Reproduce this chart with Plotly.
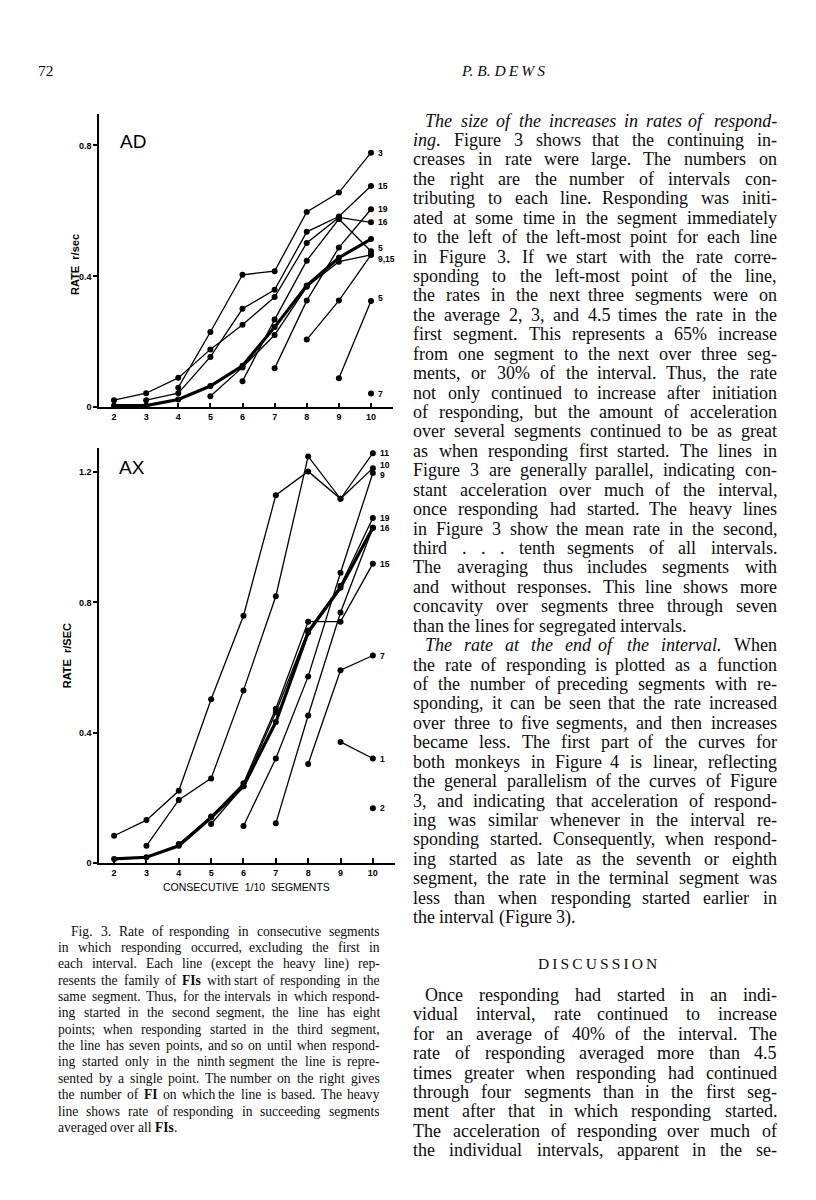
import plotly.graph_objects as go

# ---------------- DATA ----------------
segments = [2, 3, 4, 5, 6, 7, 8, 9, 10]

# Panel AD: each family of FIs, keyed by start segment
ad_start = [2, 3, 4, 5, 6, 7, 8, 9, 10]
ad_values = [
    [0.022, 0.043, 0.090, 0.177, 0.252, 0.337, 0.502, 0.580, 0.565],
    [0.022, 0.043, 0.154, 0.301, 0.359, 0.536, 0.583, 0.676],
    [0.060, 0.230, 0.405, 0.416, 0.597, 0.656, 0.778],
    [0.034, 0.122, 0.221, 0.368, 0.445, 0.466],
    [0.080, 0.268, 0.448, 0.575, 0.477],
    [0.119, 0.326, 0.488, 0.605],
    [0.207, 0.326, 0.466],
    [0.089, 0.325],
    [0.042],
]
ad_labels = ["16", "15", "3", "9,15", "5", "19", "", "5", "7"]
ad_mean = [0.005, 0.005, 0.024, 0.065, 0.127, 0.245, 0.372, 0.457, 0.514]

# Panel AX
ax_start = [2, 3, 4, 5, 6, 7, 8, 9, 10]
ax_values = [
    [0.084, 0.132, 0.222, 0.503, 0.759, 1.129, 1.202, 1.118, 1.212],
    [0.053, 0.194, 0.260, 0.530, 0.819, 1.248, 1.118, 1.258],
    [0.059, 0.143, 0.245, 0.474, 0.741, 0.741, 0.919],
    [0.120, 0.236, 0.463, 0.714, 0.851, 1.059],
    [0.114, 0.321, 0.573, 0.891, 1.197],
    [0.122, 0.453, 0.769, 1.029],
    [0.304, 0.592, 0.637],
    [0.372, 0.321],
    [0.168],
]
ax_labels = ["10", "11", "15", "19", "9", "16", "7", "1", "2"]
ax_mean = [0.013, 0.018, 0.053, 0.140, 0.236, 0.433, 0.708, 0.845, 1.029]

ad_yticks = [0, 0.4, 0.8]
ad_yticktext = ["0", "0.4", "0.8"]
ax_yticks = [0, 0.4, 0.8, 1.2]
ax_yticktext = ["0", "0.4", "0.8", "1.2"]
x_ticktext = ["2", "3", "4", "5", "6", "7", "8", "9", "10"]

caption_lines = [
    "Fig. 3. Rate of responding in consecutive segments",
    "in which responding occurred, excluding the first in",
    "each interval. Each line (except the heavy line) rep-",
    "resents the family of <b>FIs</b> with start of responding in the",
    "same segment. Thus, for the intervals in which respond-",
    "ing started in the second segment, the line has eight",
    "points; when responding started in the third segment,",
    "the line has seven points, and so on until when respond-",
    "ing started only in the ninth segment the line is repre-",
    "sented by a single point. The number on the right gives",
    "the number of <b>FI</b> on which the line is based. The heavy",
    "line shows rate of responding in succeeding segments",
    "averaged over all <b>FIs</b>.",
]

body_lines = [
    "<i>The size of the increases in rates of respond-</i>",
    "<i>ing</i>. Figure 3 shows that the continuing in-",
    "creases in rate were large. The numbers on",
    "the right are the number of intervals con-",
    "tributing to each line. Responding was initi-",
    "ated at some time in the segment immediately",
    "to the left of the left-most point for each line",
    "in Figure 3. If we start with the rate corre-",
    "sponding to the left-most point of the line,",
    "the rates in the next three segments were on",
    "the average 2, 3, and 4.5 times the rate in the",
    "first segment. This represents a 65% increase",
    "from one segment to the next over three seg-",
    "ments, or 30% of the interval. Thus, the rate",
    "not only continued to increase after initiation",
    "of responding, but the amount of acceleration",
    "over several segments continued to be as great",
    "as when responding first started. The lines in",
    "Figure 3 are generally parallel, indicating con-",
    "stant acceleration over much of the interval,",
    "once responding had started. The heavy lines",
    "in Figure 3 show the mean rate in the second,",
    "third . . . tenth segments of all intervals.",
    "The averaging thus includes segments with",
    "and without responses. This line shows more",
    "concavity over segments three through seven",
    "than the lines for segregated intervals.",
    "<i>The rate at the end of the interval.</i> When",
    "the rate of responding is plotted as a function",
    "of the number of preceding segments with re-",
    "sponding, it can be seen that the rate increased",
    "over three to five segments, and then increases",
    "became less. The first part of the curves for",
    "both monkeys in Figure 4 is linear, reflecting",
    "the general parallelism of the curves of Figure",
    "3, and indicating that acceleration of respond-",
    "ing was similar whenever in the interval re-",
    "sponding started. Consequently, when respond-",
    "ing started as late as the seventh or eighth",
    "segment, the rate in the terminal segment was",
    "less than when responding started earlier in",
    "the interval (Figure 3).",
]
body_indented = {0, 27}
body_ragged = {26, 41}

discussion_lines = [
    "Once responding had started in an indi-",
    "vidual interval, rate continued to increase",
    "for an average of 40% of the interval. The",
    "rate of responding averaged more than 4.5",
    "times greater when responding had continued",
    "through four segments than in the first seg-",
    "ment after that in which responding started.",
    "The acceleration of responding over much of",
    "the individual intervals, apparent in the se-",
]

# ---------------- FIGURE ----------------
W, H = 816, 1200
OFF = 8  # page body margin of the html page


def px(x):
    return (x - OFF) / W


def py(y):
    return 1 - (y - OFF) / H


fig = go.Figure()

X0_PX, XU = 114.0, 32.125   # pixel of segment 2 and pixels per segment
x_range = [2 - (X0_PX - 99) / XU, 10 + (393 - (X0_PX + 8 * XU)) / XU]


def add_panel(values, starts, mean, labels, xa, ya, label_shift):
    for st, vals, lab in zip(starts, values, labels):
        xs = list(range(st, st + len(vals)))
        fig.add_trace(go.Scatter(
            x=xs, y=vals, mode="lines+markers", xaxis=xa, yaxis=ya,
            line=dict(color="black", width=1.3),
            marker=dict(color="black", size=6),
            cliponaxis=False, showlegend=False, hoverinfo="skip"))
        if lab:
            fig.add_annotation(
                x=10, y=vals[-1], xref=xa, yref=ya, text=lab, showarrow=False,
                xanchor="left", yanchor="middle", xshift=5,
                yshift=label_shift.get(lab, 0),
                font=dict(family="Liberation Sans", size=8.5, color="black", weight="bold"))
    fig.add_trace(go.Scatter(
        x=segments, y=mean, mode="lines+markers", xaxis=xa, yaxis=ya,
        line=dict(color="black", width=3.2),
        marker=dict(color="black", size=6),
        cliponaxis=False, showlegend=False, hoverinfo="skip"))


add_panel(ad_values, ad_start, ad_mean, ad_labels, "x", "y", {"5": 3, "9,15": -4})
add_panel(ax_values, ax_start, ax_mean, ax_labels, "x2", "y2", {"10": 3, "9": -2})

axis_common = dict(showline=True, linecolor="black", linewidth=1.5, showgrid=False,
                   zeroline=False, tickcolor="black", tickwidth=1.5,
                   tickfont=dict(family="Liberation Sans", size=9, color="black", weight="bold"))

ad_top, ad_bot = 114, 409
ax_top, ax_bot = 450, 866.7
ad_ppu, ax_ppu = 328.75, 327.25

fig.update_layout(
    width=W, height=H, margin=dict(l=0, r=0, t=0, b=0),
    paper_bgcolor="white", plot_bgcolor="white",
    xaxis=dict(domain=[px(99), px(393)], range=x_range, anchor="y",
               tickvals=segments, ticktext=x_ticktext, ticks="inside", ticklen=5,
               **axis_common),
    yaxis=dict(domain=[py(ad_bot), py(ad_top)], range=[0, (ad_bot - ad_top) / ad_ppu],
               anchor="x", tickvals=ad_yticks, ticktext=ad_yticktext,
               ticks="outside", ticklen=4, **axis_common),
    xaxis2=dict(domain=[px(99), px(395)], range=x_range, anchor="y2",
                tickvals=segments, ticktext=x_ticktext, ticks="inside", ticklen=5,
                **axis_common),
    yaxis2=dict(domain=[py(ax_bot), py(ax_top)], range=[0, (ax_bot - ax_top) / ax_ppu],
                anchor="x2", tickvals=ax_yticks, ticktext=ax_yticktext,
                ticks="outside", ticklen=4, **axis_common),
)

sans = "Liberation Sans"
serif = "Liberation Serif"
INK = "#0c0c0c"


def txt(x, y, s, size, family=serif, anchor="left", angle=0, weight="normal", color=INK):
    fig.add_annotation(x=px(x), y=py(y), xref="paper", yref="paper", text=s,
                       showarrow=False, xanchor=anchor, yanchor="middle",
                       textangle=angle, borderpad=0,
                       font=dict(family=family, size=size, color=color, weight=weight))


# ---- Times (Liberation Serif) metrics for justified setting ----
_TR = {' ': 250, '!': 333, '%': 833, '(': 333, ')': 333, ',': 250, '-': 333, '.': 250,
       '/': 278, ':': 278, ';': 278, '?': 444,
       'A': 722, 'B': 667, 'C': 667, 'D': 722, 'E': 611, 'F': 556, 'G': 722, 'H': 722,
       'I': 333, 'J': 389, 'K': 722, 'L': 611, 'M': 889, 'N': 722, 'O': 722, 'P': 556,
       'Q': 722, 'R': 667, 'S': 556, 'T': 611, 'U': 722, 'V': 722, 'W': 944, 'X': 722,
       'Y': 722, 'Z': 611,
       'a': 444, 'b': 500, 'c': 444, 'd': 500, 'e': 444, 'f': 333, 'g': 500, 'h': 500,
       'i': 278, 'j': 278, 'k': 500, 'l': 278, 'm': 778, 'n': 500, 'o': 500, 'p': 500,
       'q': 500, 'r': 333, 's': 389, 't': 278, 'u': 500, 'v': 500, 'w': 722, 'x': 500,
       'y': 500, 'z': 444}
for d in "0123456789":
    _TR[d] = 500
_TI = dict(_TR)
_TI.update({'a': 500, 'f': 278, 'k': 444, 'm': 722, 'r': 389, 'v': 444, 'w': 667,
            'x': 444, 'y': 444, 'z': 389, 'T': 556, 'F': 611})
_TB = dict(_TR)
_TB.update({'F': 611, 'I': 389, 'e': 444, 's': 389})


def parse_words(line):
    state = {"i": False, "b": False}
    words = []
    for raw in line.split(" "):
        if not raw:
            continue
        runs, cur, k = [], "", 0
        while k < len(raw):
            hit = False
            for tag, key, val in (("<i>", "i", True), ("</i>", "i", False),
                                  ("<b>", "b", True), ("</b>", "b", False)):
                if raw.startswith(tag, k):
                    if cur:
                        runs.append((cur, state["i"], state["b"]))
                        cur = ""
                    state[key] = val
                    k += len(tag)
                    hit = True
                    break
            if not hit:
                cur += raw[k]
                k += 1
        if cur:
            runs.append((cur, state["i"], state["b"]))
        html, width = "", 0.0
        for t, it, bd in runs:
            table = _TI if it else (_TB if bd else _TR)
            width += sum(table.get(ch, 500) for ch in t) / 1000.0
            h = t
            if bd:
                h = "<b>" + h + "</b>"
            if it:
                h = "<i>" + h + "</i>"
            html += h
        words.append((html, width))
    return words


def set_line(line, y, left, right, size, justify=True):
    words = parse_words(line)
    widths = [w * size for _, w in words]
    n = len(words)
    if justify and n > 1:
        gap = (right - left - sum(widths)) / (n - 1)
        gap = max(gap, 0.18 * size)
    else:
        gap = 0.25 * size
    lefts = []
    xcur = left
    for w in widths:
        lefts.append(xcur)
        xcur += w + gap
    if justify and n > 1:
        rights = [0.0] * n
        xr = right
        for k in range(n - 1, -1, -1):
            rights[k] = xr
            xr -= widths[k] + gap
        for k, (html, _) in enumerate(words):
            if k < n / 2:
                txt(lefts[k], y, html, size)
            else:
                txt(rights[k], y, html, size, anchor="right")
    else:
        for k, (html, _) in enumerate(words):
            txt(lefts[k], y, html, size)


# panel letters and axis titles
txt(119, 142, "AD", 19, family=sans, color="black")
txt(118, 469, "AX", 19, family=sans, color="black")
txt(75, 266, "RATE  r/sec", 11, family=sans, anchor="center", angle=-90, weight="bold", color="black")
txt(67, 659, "RATE  r/SEC", 11, family=sans, anchor="center", angle=-90, weight="bold", color="black")
txt(246, 891, "CONSECUTIVE  1/10  SEGMENTS", 10.5, family=sans, anchor="center", color="black")

# header
txt(37, 71, "72", 15.5)
txt(503, 71, "<i>P. B. D\u2009E\u2009W\u2009S</i>", 15.5, anchor="center")

# body text, right column
BODY_SIZE = 18
for i, line in enumerate(body_lines):
    left = 424 if i in body_indented else 412
    set_line(line, 121 + i * 19.51, left, 778, BODY_SIZE, justify=i not in body_ragged)

txt(597, 967, "D\u2009I\u2009S\u2009C\u2009U\u2009S\u2009S\u2009I\u2009O\u2009N", 15.5, anchor="center")
for i, line in enumerate(discussion_lines):
    left = 424 if i == 0 else 412
    set_line(line, 999 + i * 19.5, left, 778, BODY_SIZE, justify=True)

# caption
CAP_SIZE = 13.6
for i, line in enumerate(caption_lines):
    left = 70 if i == 0 else 57
    set_line(line, 935 + i * 16.42, left, 381, CAP_SIZE, justify=i < len(caption_lines) - 1)

fig.write_html("out.html")
